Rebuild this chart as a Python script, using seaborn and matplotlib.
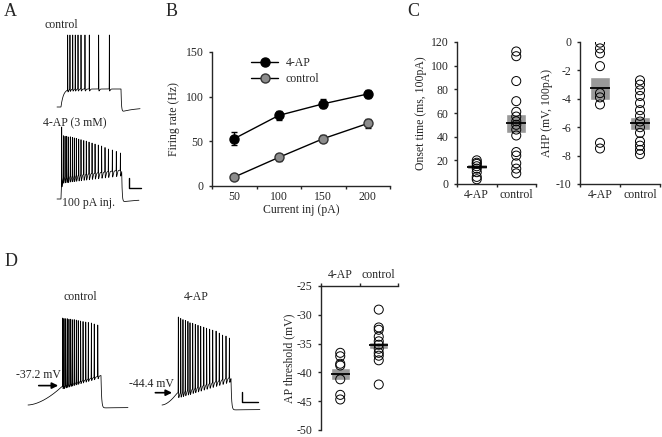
import numpy as np
import pandas as pd
import seaborn as sns
import matplotlib.pyplot as plt
from matplotlib.lines import Line2D

# ---------------------------------------------------------------------------
# Data
# ---------------------------------------------------------------------------
groups = ["4-AP", "control"]

# B - firing rate vs injected current (mean, SEM)
current_pA = [50, 100, 150, 200]
rate_4ap = [53, 79, 92, 103]
rate_4ap_sem = [7, 5, 5, 4]
rate_ctrl = [10, 32, 53, 70]
rate_ctrl_sem = [1, 4, 4, 5]

# C - onset time of first spike (ms, 100 pA)
onset_4ap = [20, 18, 17, 15, 13, 10, 6, 4]
onset_ctrl = [112, 108, 87, 70, 61, 57, 53, 50, 46, 41, 27, 24, 17.5, 13, 9]
onset_mean = [14.6, 51.3]
onset_sem = [2.2, 7.8]

# C - AHP amplitude (mV, 100 pA)
ahp_4ap = [-0.05, -0.45, -0.8, -1.7, -3.6, -3.9, -4.4, -7.1, -7.5]
ahp_ctrl = [-2.7, -3.0, -3.4, -3.8, -4.3, -4.8, -5.2, -5.6, -6.0, -6.4,
            -7.0, -7.3, -7.6, -7.9]
ahp_mean = [-3.26, -5.73]
ahp_sem = [0.82, 0.47]

# D - AP threshold (mV)
thr_4ap = [-36.6, -37.2, -38.5, -38.8, -41.2, -43.9, -44.7]
thr_ctrl = [-29.1, -32.2, -32.6, -33.8, -34.6, -35.2, -35.9, -36.6, -37.1,
            -37.9, -42.1]
thr_mean = [-40.2, -35.3]
thr_sem = [1.05, 0.65]

# A - example traces, 100 pA step (ms, mV)
a_ctrl_spikes = [89, 108, 131, 152, 175, 200, 233, 269, 347, 436]
a_ctrl_peaks = [74, 74, 74, 74, 74, 74, 74, 74, 74, 74]
a_4ap_spikes = [39, 53, 67, 81, 94, 111, 128, 144, 161, 181, 200, 223, 244,
                267, 292, 317, 344, 372, 400, 428, 461, 494, 528]
a_4ap_peaks = [74, 58, 57, 57, 56, 55, 54, 53, 52, 50, 49, 47, 46, 44, 42,
               40, 38, 36, 33, 30, 28, 25, 22]

# D - example traces (ms, mV)
d_ctrl_spikes = [217, 225, 236, 246, 256, 267, 277, 289, 302, 314, 329, 344,
                 361, 377, 396, 414, 436]
d_ctrl_peaks = [100, 100, 99, 99, 98, 98, 97, 97, 96, 95, 94, 93, 92, 91,
                90, 88, 86]
d_4ap_spikes = [102, 117, 131, 146, 162, 175, 192, 208, 225, 242, 261, 279,
                298, 317, 338, 358, 379, 400, 421]
d_4ap_peaks = [108, 106, 104, 102, 100, 98, 96, 94, 92, 90, 88, 86, 84, 82,
               80, 76, 72, 70, 66]
d_thresholds = [-37.2, -44.4]

# ---------------------------------------------------------------------------
# Style
# ---------------------------------------------------------------------------
sns.set_style("ticks")
plt.rcParams["font.family"] = ["Liberation Serif", "DejaVu Serif"]
plt.rcParams["axes.unicode_minus"] = False
plt.rcParams["axes.linewidth"] = 1.0
plt.rcParams["xtick.major.width"] = 1.0
plt.rcParams["ytick.major.width"] = 1.0
plt.rcParams["xtick.major.size"] = 2.5
plt.rcParams["ytick.major.size"] = 2.5
plt.rcParams["xtick.labelsize"] = 8.5
plt.rcParams["ytick.labelsize"] = 8.5
plt.rcParams["axes.labelsize"] = 8.5

W, H = 662, 437
fig = plt.figure(figsize=(W / 100, H / 100), dpi=100)


def px_axes(left, top, right, bottom):
    return fig.add_axes([left / W, 1 - bottom / H, (right - left) / W, (bottom - top) / H])


def text(x, y, s, size=8.5, **kw):
    fig.text(x / W, 1 - y / H, s, ha="center", va="center", fontsize=size, **kw)


def trace_axes(box, anchor, ms_per_px, mv_per_px, rest):
    left, top, right, bottom = box
    ax = px_axes(*box)
    ax.set_xlim((left - anchor[0]) * ms_per_px, (right - anchor[0]) * ms_per_px)
    ax.set_ylim(rest - (bottom - anchor[1]) * mv_per_px, rest + (anchor[1] - top) * mv_per_px)
    ax.axis("off")
    return ax


def build_trace(t_end, rest, on, off, plateau, spikes, peaks, after, ahp,
                tau_ahp, ramp=False, tau_on=15.0):
    t = np.arange(0, t_end, 0.2)
    base = np.full_like(t, rest, dtype=float)
    level = np.interp(t, [on, off], plateau)
    step = (t >= on) & (t < off)
    if ramp:
        pre = t < on
        base[pre] = rest + (plateau[0] - rest) * (t[pre] / on) ** 1.7
        base[step] = level[step]
    else:
        base[step] = rest + (level[step] - rest) * (1 - np.exp(-(t[step] - on) / tau_on))
    post = t >= off
    dt = t[post] - off
    target = after[1] + (after[0] - after[1]) * np.exp(-dt / 120)
    base[post] = target + (plateau[1] - target) * np.exp(-dt / 4)
    v = base.copy()
    for ts, pk in zip(spikes, peaks):
        b = np.interp(ts, t, base)
        v += (pk - b) * np.exp(-0.5 * ((t - ts) / 0.6) ** 2)
        s = t - ts
        m = s > 0
        v[m] -= ahp * (s[m] / tau_ahp) * np.exp(1 - s[m] / tau_ahp)
    return t, v


TRACE_LW = 0.55

# ---------------------------------------------------------------------------
# A - traces
# ---------------------------------------------------------------------------
ax = trace_axes((50, 28, 146, 116), (57, 107), 8.33, 2, -70)
t, v = build_trace(692, -70, 33, 533, [-34, -34], a_ctrl_spikes, a_ctrl_peaks,
                   [-80, -71], ahp=4, tau_ahp=3, tau_on=20)
ax.plot(t, v, color="black", lw=TRACE_LW)

ax = trace_axes((50, 116, 146, 210), (57, 199), 8.33, 2, -70)
t, v = build_trace(683, -70, 33, 539, [-26, -12], a_4ap_spikes, a_4ap_peaks,
                   [-76, -71], ahp=12, tau_ahp=3, tau_on=5)
ax.plot(t, v, color="black", lw=TRACE_LW)
ax.plot([600, 600, 700], [-28, -48, -48], color="black", lw=1)

text(10, 12, "A", size=13)
text(61, 25, "control")
text(75, 123, "4-AP (3 mM)")
text(88, 203, "100 pA inj.")

# ---------------------------------------------------------------------------
# B - firing rate
# ---------------------------------------------------------------------------
axB = px_axes(212, 52, 390, 186)
rate_df = pd.DataFrame({
    "current": current_pA * 2,
    "rate": rate_4ap + rate_ctrl,
    "group": ["4-AP"] * len(rate_4ap) + ["control"] * len(rate_ctrl),
})
sns.lineplot(data=rate_df, x="current", y="rate", hue="group",
             palette={"4-AP": "black", "control": "black"}, lw=1,
             legend=False, ax=axB)
axB.errorbar(current_pA, rate_4ap, yerr=rate_4ap_sem, fmt="o", ms=6.5,
             mfc="black", mec="black", ecolor="black", elinewidth=1,
             capsize=2, zorder=3)
axB.errorbar(current_pA, rate_ctrl, yerr=rate_ctrl_sem, fmt="o", ms=6.5,
             mfc="#8c8c8c", mec="#333333", ecolor="black", elinewidth=1,
             capsize=2, zorder=3)
axB.set_xlim(25, 225)
axB.set_ylim(0, 150)
axB.set_yticks([0, 50, 100, 150])
axB.set_xticks([25, 75, 125, 175, 225], [""] * 5)
axB.set_xticks(current_pA, [str(c) for c in current_pA], minor=True)
axB.tick_params(axis="x", which="minor", length=0)
axB.set_xlabel("Current inj (pA)", labelpad=1)
axB.set_ylabel("Firing rate (Hz)", labelpad=4)
sns.despine(ax=axB)
handles = [
    Line2D([], [], color="black", lw=1, marker="o", ms=6.5, mfc="black", mec="black"),
    Line2D([], [], color="black", lw=1, marker="o", ms=6.5, mfc="#8c8c8c", mec="#333333"),
]
axB.legend(handles, groups, loc="upper left", bbox_to_anchor=(0.16, 1.04),
           frameon=False, fontsize=8.5, handlelength=2.3, handletextpad=0.6,
           labelspacing=0.3)
text(172, 12, "B", size=13)


# ---------------------------------------------------------------------------
# C / D - scatter panels
# ---------------------------------------------------------------------------
def dot_panel(ax, a_vals, c_vals, means, sems):
    df = pd.DataFrame({
        "group": ["4-AP"] * len(a_vals) + ["control"] * len(c_vals),
        "value": a_vals + c_vals,
    })
    pos = np.arange(len(groups))
    ax.bar(pos, [2 * s for s in sems], bottom=[m - s for m, s in zip(means, sems)],
           width=0.5, color="#999999", zorder=1)
    sns.stripplot(data=df, x="group", y="value", order=groups, jitter=False,
                  color="white", edgecolor="black", linewidth=0.7, size=6.5,
                  ax=ax, zorder=2)
    for c in ax.collections:
        c.set_facecolor("none")
    ax.hlines(means, pos - 0.25, pos + 0.25, color="black", lw=1.3, zorder=3)
    ax.set_xlim(-0.5, 1.5)
    ax.set_xticks([-0.5, 0.5, 1.5], [""] * 3)
    ax.set_xticks(pos, groups, minor=True)
    ax.tick_params(axis="x", which="minor", length=0)
    ax.set_xlabel("")


axC1 = px_axes(457, 42, 536, 184)
dot_panel(axC1, onset_4ap, onset_ctrl, onset_mean, onset_sem)
axC1.set_ylim(0, 120)
axC1.set_yticks(range(0, 121, 20))
axC1.set_ylabel("Onset time (ms, 100pA)", labelpad=3)
sns.despine(ax=axC1)

axC2 = px_axes(580, 42, 660, 184)
dot_panel(axC2, ahp_4ap, ahp_ctrl, ahp_mean, ahp_sem)
axC2.set_ylim(-10, 0)
axC2.set_yticks(range(0, -11, -2))
axC2.set_ylabel("AHP (mV, 100pA)", labelpad=2)
sns.despine(ax=axC2)
text(413, 12, "C", size=13)

axD = px_axes(321, 286, 398, 430)
dot_panel(axD, thr_4ap, thr_ctrl, thr_mean, thr_sem)
axD.set_ylim(-50, -25)
axD.set_yticks(range(-25, -51, -5))
axD.set_ylabel("AP threshold (mV)", labelpad=1)
axD.xaxis.set_ticks_position("top")
axD.xaxis.set_label_position("top")
axD.spines["right"].set_visible(False)
axD.spines["bottom"].set_visible(False)

# ---------------------------------------------------------------------------
# D - traces
# ---------------------------------------------------------------------------
ax = trace_axes((20, 300, 140, 420), (28, 405), 6.25, 2, -74)
t, v = build_trace(625, -74, 212, 456, [d_thresholds[0], -15], d_ctrl_spikes,
                   d_ctrl_peaks, [-80, -79], ahp=5, tau_ahp=2, ramp=True)
ax.plot(t, v, color="black", lw=TRACE_LW)
ax.annotate("", xy=(206, d_thresholds[0] + 2), xytext=(-18, 0),
            textcoords="offset points",
            arrowprops=dict(arrowstyle="-|>", color="black", lw=1.2,
                            mutation_scale=9))

ax = trace_axes((150, 300, 265, 420), (162, 405), 6.25, 2, -68)
t, v = build_trace(612, -68, 94, 431, [d_thresholds[1], -12], d_4ap_spikes,
                   d_4ap_peaks, [-78, -77], ahp=10, tau_ahp=3, ramp=True)
ax.plot(t, v, color="black", lw=TRACE_LW)
ax.annotate("", xy=(80, d_thresholds[1] + 1), xytext=(-16, 0),
            textcoords="offset points",
            arrowprops=dict(arrowstyle="-|>", color="black", lw=1.2,
                            mutation_scale=9))
ax.plot([500, 500, 600], [-42, -62, -62], color="black", lw=1)

text(11, 261, "D", size=13)
text(80, 297, "control")
text(196, 297, "4-AP")
text(38, 375, "%.1f mV" % d_thresholds[0])
text(151, 384, "%.1f mV" % d_thresholds[1])

fig.savefig("out.png", dpi=100)
